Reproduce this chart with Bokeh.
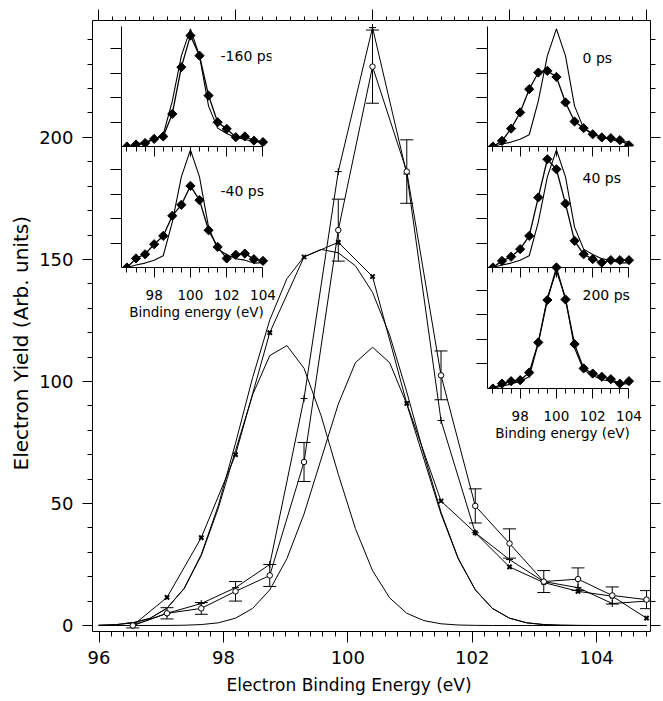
import numpy as np
from bokeh.plotting import figure
from bokeh.models import (LinearAxis, FixedTicker, Range1d, ColumnDataSource,
                          Whisker, TeeHead, Label, Title)
from bokeh.embed import file_html
from bokeh.resources import INLINE

FONT = "DejaVu Sans"

# ---------------- main data ----------------
energy = [96.5, 97.0, 97.5, 98.0, 98.5, 99.0, 99.5, 100.0,
          100.5, 101.0, 101.5, 102.0, 102.5, 103.0, 103.5, 104.0]
yield_cross = [0, 5, 9, 15.5, 25, 93, 186, 245, 185, 84, 38, 27, 18, 15.5, 9, 10]
yield_circle = [0, 5, 7, 14, 20.5, 67, 162, 229, 186, 102.5, 49, 33.6, 18, 19, 12.3, 10.6]
circle_err = [1, 2.3, 2.4, 4, 4.5, 8, 12.7, 15, 13, 10, 7, 6, 4.5, 4.6, 3.5, 3.7]
yield_bowtie = [0, 11.5, 36, 70, 120, 151, 157, 143, 91, 51, 38, 24, 17.6, 14, 12, 3]

fit_energy = [96.0, 96.25, 96.5, 96.75, 97.0, 97.25, 97.5, 97.75, 98.0, 98.25, 98.5,
              98.75, 99.0, 99.25, 99.5, 99.75, 100.0, 100.25, 100.5, 100.75, 101.0,
              101.25, 101.5, 101.75, 102.0, 102.25, 102.5, 102.75, 103.0, 103.25,
              103.5, 103.75, 104.0]
fit_comp1 = [0.1, 0.35, 1.1, 2.9, 7.1, 15.1, 28.7, 48.2, 71.7, 94.6, 110.6, 114.7,
             105.4, 85.9, 62.0, 39.7, 22.5, 11.3, 5.0, 2.0, 0.7, 0.2, 0.05, 0, 0,
             0, 0, 0, 0, 0, 0, 0, 0]
fit_comp2 = [0, 0, 0, 0, 0.03, 0.11, 0.38, 1.1, 3.0, 7.0, 14.6, 27.4, 45.7, 68.2,
             90.7, 107.7, 114, 107.7, 90.7, 68.2, 45.7, 27.4, 14.6, 7.0, 3.0, 1.1,
             0.38, 0.11, 0.03, 0, 0, 0, 0]
fit_sum = [0.1, 0.35, 1.1, 2.9, 7.1, 15.2, 29.1, 49.3, 74.7, 101.6, 125.2, 142.1,
           151.1, 154.1, 152.7, 147.4, 136.5, 119.0, 95.7, 70.2, 46.4, 27.6, 14.65,
           7.0, 3.0, 1.1, 0.38, 0.11, 0.03, 0, 0, 0, 0]

x_major = [96, 98, 100, 102, 104]
x_minor = [round(96 + 0.2 * i, 1) for i in range(45)]
y_major = [0, 50, 100, 150, 200]
y_minor = list(range(0, 250, 10))

# ---------------- inset data ----------------
inset_ref = [0, 0.1, 0.18, 0.3, 0.48, 1.85, 3.7, 4.8, 3.7, 1.65, 0.75, 0.53, 0.36, 0.3, 0.18, 0.2]
inset_m160 = [0, 0.08, 0.14, 0.31, 0.41, 1.33, 3.24, 4.53, 3.71, 2.08, 0.99, 0.72, 0.38, 0.41, 0.24, 0.18]
inset_m40 = [0, 0.37, 0.54, 0.95, 1.29, 2.11, 2.56, 3.33, 2.75, 1.52, 0.84, 0.37, 0.52, 0.57, 0.34, 0.27]
inset_p0 = [0, 0.23, 0.73, 1.39, 2.34, 3.02, 3.09, 2.84, 1.8, 1.02, 0.75, 0.5, 0.37, 0.34, 0.26, 0.05]
inset_p40 = [0, 0.27, 0.44, 0.75, 1.29, 2.86, 4.42, 4.01, 2.61, 1.09, 0.54, 0.34, 0.2, 0.3, 0.3, 0.3]
inset_p200 = [0, 0.2, 0.3, 0.34, 0.65, 1.88, 3.61, 4.94, 3.63, 1.81, 0.82, 0.61, 0.48, 0.38, 0.2, 0.3]
inset_x_major = [98, 100, 102, 104]
inset_x_minor = [96.5 + 0.5 * i for i in range(16)]
inset_y_major = [1, 2, 3, 4]


def style_axis(ax, major_out, minor_out, labels=True, size="18px"):
    ax.axis_line_color = "black"
    ax.major_tick_line_color = "black"
    ax.minor_tick_line_color = "black"
    ax.major_tick_in = 0
    ax.minor_tick_in = 0
    ax.major_tick_out = major_out
    ax.minor_tick_out = minor_out
    ax.major_label_text_font = FONT
    ax.major_label_text_color = "black"
    ax.axis_label_text_font = FONT
    ax.axis_label_text_color = "black"
    ax.axis_label_text_font_style = "normal"
    if labels:
        ax.major_label_text_font_size = size
    else:
        ax.major_label_text_font_size = "1px"
        ax.major_label_text_color = None
        ax.major_label_standoff = 0


# ---------------- main figure ----------------
p = figure(width=663, height=701, x_range=Range1d(95.912, 104.058),
           y_range=Range1d(-2.46, 247.9), output_backend="svg",
           toolbar_location=None, x_axis_location=None,
           min_border_left=92, min_border_right=13,
           min_border_top=20, min_border_bottom=70)
p.extra_x_ranges = {"lab": Range1d(95.895, 104.866)}
p.grid.visible = False
p.outline_line_color = None
p.background_fill_color = None
p.border_fill_color = None

bottom_ax = LinearAxis(x_range_name="lab",
                       ticker=FixedTicker(ticks=x_major, minor_ticks=x_minor))
style_axis(bottom_ax, 11, 5)
bottom_ax.major_label_standoff = 8
p.add_layout(bottom_ax, "below")
p.add_layout(Title(text="Electron Binding Energy (eV)", align="left", offset=134,
                   standoff=13, text_font=FONT, text_font_size="17px",
                   text_font_style="normal", text_color="black"), "below")

p.yaxis.ticker = FixedTicker(ticks=y_major, minor_ticks=y_minor)
style_axis(p.yaxis[0], 10, 5)
p.yaxis.major_label_standoff = 9
p.add_layout(Title(text="Electron Yield (Arb. units)", align="left", offset=161,
                   standoff=8, text_font=FONT, text_font_size="20px",
                   text_font_style="normal", text_color="black"), "left")

top_ax = LinearAxis(ticker=FixedTicker(ticks=x_major, minor_ticks=x_minor))
style_axis(top_ax, 11, 4, labels=False)
p.add_layout(top_ax, "above")
right_ax = LinearAxis(ticker=FixedTicker(ticks=y_major, minor_ticks=y_minor))
style_axis(right_ax, 10, 5, labels=False)
p.add_layout(right_ax, "right")

# fit curves
p.line(fit_energy, fit_comp1, line_color="black", line_width=1)
p.line(fit_energy, fit_comp2, line_color="black", line_width=1)
p.line(fit_energy, fit_sum, line_color="black", line_width=1)

# data series
p.line(energy, yield_cross, line_color="black", line_width=1)
p.scatter(energy, yield_cross, marker="cross", size=7, line_color="black", line_width=1)

p.line(energy, yield_bowtie, line_color="black", line_width=1)
p.scatter(energy, yield_bowtie, marker="x", size=6, line_color="black", line_width=2)

err_src = ColumnDataSource(dict(
    x=energy,
    upper=[v + e for v, e in zip(yield_circle, circle_err)],
    lower=[v - e for v, e in zip(yield_circle, circle_err)]))
p.add_layout(Whisker(source=err_src, base="x", upper="upper", lower="lower",
                     dimension="height", line_color="black", line_width=1,
                     upper_head=TeeHead(size=13, line_color="black", line_width=1),
                     lower_head=TeeHead(size=13, line_color="black", line_width=1)))
p.line(energy, yield_circle, line_color="black", line_width=1)
p.scatter(energy, yield_circle, marker="circle", size=5.5, line_color="black",
          fill_color="white", line_width=1)


# ---------------- insets ----------------
def inset(left, top, frame_h, y_end, data, text, text_xy, bottom_labels):
    bl, bt, br = 14, 6, 6
    bb = 60 if bottom_labels else 12
    fw = 150
    f = figure(width=bl + fw + br, height=bt + frame_h + bb,
               x_range=Range1d(96.2, 104.47), y_range=Range1d(0, y_end),
               output_backend="svg", toolbar_location=None,
               min_border_left=bl, min_border_right=br, min_border_top=bt,
               min_border_bottom=bb)
    f.styles = {"position": "absolute", "left": f"{left - bl}px", "top": f"{top - bt}px"}
    f.grid.visible = False
    f.outline_line_color = None
    f.background_fill_color = None
    f.border_fill_color = None
    f.xaxis.ticker = FixedTicker(ticks=inset_x_major, minor_ticks=inset_x_minor)
    f.xaxis.bounds = (96.2, 104.0)
    f.yaxis.ticker = FixedTicker(ticks=inset_y_major, minor_ticks=[])
    style_axis(f.yaxis[0], 11, 0, labels=False)
    style_axis(f.xaxis[0], 10, 5, labels=bottom_labels, size="13.5px")
    if bottom_labels:
        f.xaxis.axis_label = "Binding energy (eV)"
        f.xaxis.axis_label_text_font_size = "13.5px"
        f.xaxis.major_label_standoff = 12
        f.xaxis.axis_label_standoff = 1
    f.line(energy, inset_ref, line_color="black", line_width=1.1)
    f.line(energy, data, line_color="black", line_width=1.3)
    f.scatter(energy, data, marker="square", angle=np.pi / 4, size=6.5,
              line_color="black", fill_color="black")
    f.add_layout(Label(x=text_xy[0], y=text_xy[1], text=text, text_font=FONT,
                       text_font_size="14px", text_baseline="middle",
                       text_color="black"))
    return f


insets = [
    inset(121, 26, 120, 4.9, inset_m160, "-160 ps", (101.66, 3.71), False),
    inset(121, 146, 121, 4.94, inset_m40, "-40 ps", (101.66, 3.14), True),
    inset(487, 26, 120, 4.9, inset_p0, "0 ps", (101.44, 3.63), False),
    inset(487, 146, 121, 4.94, inset_p40, "40 ps", (101.44, 3.67), False),
    inset(487, 262, 126, 5.14, inset_p200, "200 ps", (101.44, 3.8), True),
]

open("out.html", "w").write(file_html([p] + insets, INLINE))
